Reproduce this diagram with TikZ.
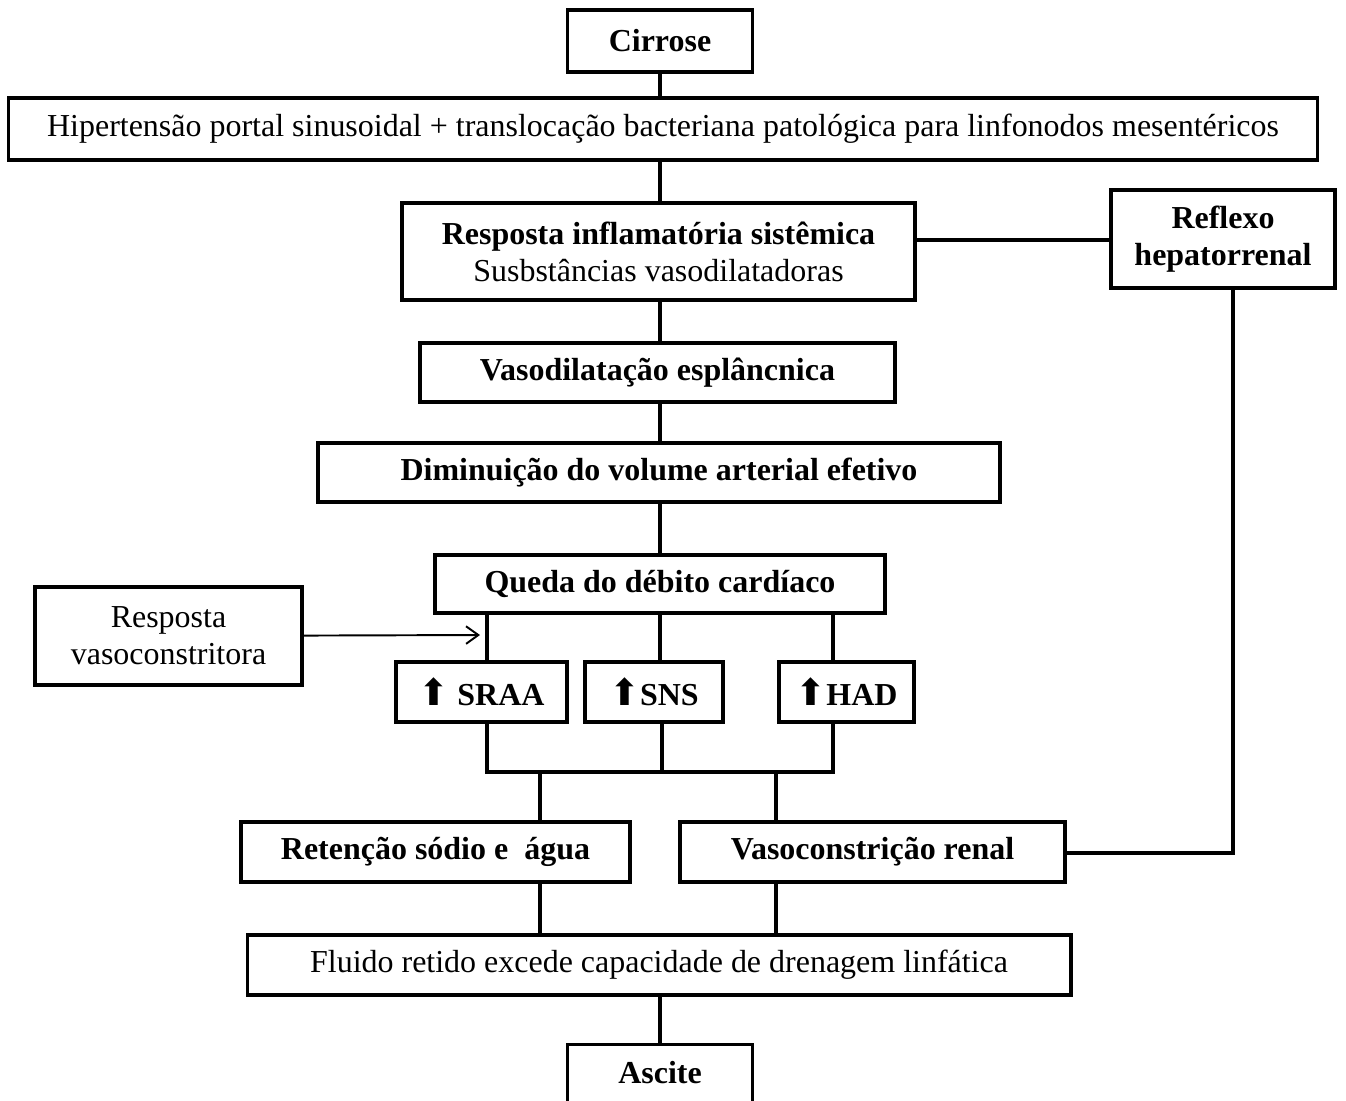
\documentclass[tikz,border=0pt]{standalone}
\usepackage{fontspec}
\setmainfont{Liberation Serif}
\newfontfamily\symfont{DejaVu Sans}
\usetikzlibrary{arrows.meta}

\newcommand{\upar}{{\symfont\fontsize{21}{20}\selectfont ⬆}}

\begin{document}
\begin{tikzpicture}[x=0.02cm, y=-0.02cm,
  box/.style={draw, line width=1.8pt, inner sep=0pt, align=center,
    font=\fontsize{18.2}{21}\selectfont},
  link/.style={line width=1.8pt}]
\useasboundingbox (0,0) rectangle (1346,1100);

\node[box, minimum width=3.7cm, minimum height=1.24cm] (cirrose) at (660,41) {\textbf{Cirrose}};
\node[box, minimum width=26.2cm, minimum height=1.24cm] (hiper) at (663,129) {Hipertensão portal sinusoidal + translocação bacteriana patológica para linfonodos mesentéricos};
\node[box, minimum width=10.26cm, minimum height=1.94cm] (inflam) at (658.5,251.5) {\textbf{Resposta inflamatória sistêmica}\\Susbstâncias vasodilatadoras};
\node[box, minimum width=4.48cm, minimum height=1.96cm] (reflexo) at (1223,239) {\textbf{Reflexo}\\\textbf{hepatorrenal}};
\node[box, minimum width=9.5cm, minimum height=1.18cm] (vasodil) at (657.5,372.5) {\textbf{Vasodilatação esplâncnica}};
\node[box, minimum width=13.64cm, minimum height=1.18cm] (dimin) at (659,472.5) {\textbf{Diminuição do volume arterial efetivo}};
\node[box, minimum width=9cm, minimum height=1.16cm] (queda) at (660,584) {\textbf{Queda do débito cardíaco}};
\node[box, minimum width=5.34cm, minimum height=1.96cm] (vasocons) at (168.5,636) {Resposta\\vasoconstritora};
\node[box, minimum width=3.42cm, minimum height=1.2cm] (sraa) at (481.5,692) {\upar\ \textbf{SRAA}};
\node[box, minimum width=2.76cm, minimum height=1.2cm] (sns) at (654,692) {\upar\textbf{SNS}};
\node[box, minimum width=2.7cm, minimum height=1.2cm] (had) at (846.5,692) {\upar\textbf{HAD}};
\node[box, minimum width=7.78cm, minimum height=1.2cm] (retencao) at (435.5,852) {\textbf{Retenção sódio e\ \ água}};
\node[box, minimum width=7.7cm, minimum height=1.2cm] (renal) at (872.5,852) {\textbf{Vasoconstrição renal}};
\node[box, minimum width=16.48cm, minimum height=1.2cm] (fluido) at (659,965) {Fluido retido excede capacidade de drenagem linfática};
\node[box, minimum width=3.7cm, minimum height=1.4cm, anchor=north] (ascite) at (660,1043) {};
\node[font=\fontsize{18.2}{21}\selectfont] at (660,1073) {\textbf{Ascite}};

\coordinate (mid) at (660,0);
\coordinate (join) at (660,772);
\coordinate (joinl) at (540,772);
\coordinate (joinr) at (776,772);
\coordinate (turn) at (1233,853);
\coordinate (tip) at (480,635);

\draw[link] (cirrose.south -| mid) -- (hiper.north -| mid);
\draw[link] (hiper.south -| mid) -- (inflam.north -| mid);
\draw[link] (inflam.east |- 0,240) -- (reflexo.west |- 0,240);
\draw[link] (inflam.south -| mid) -- (vasodil.north -| mid);
\draw[link] (vasodil.south -| mid) -- (dimin.north -| mid);
\draw[link] (dimin.south -| mid) -- (queda.north -| mid);
\draw[link] (queda.south -| 487,0) -- (sraa.north -| 487,0);
\draw[link] (queda.south -| 660,0) -- (sns.north -| 660,0);
\draw[link] (queda.south -| 833,0) -- (had.north -| 833,0);
\draw[line width=1.1pt, -{Straight Barb[length=7pt,width=10pt]}] (vasocons) -- (tip);
\draw[link] (sraa.south -| 487,0) -- (joinl -| 487,0) -- (joinr -| 833,0) -- (had.south -| 833,0);
\draw[link] (sns.south -| 662,0) -- (join -| 662,0);
\draw[link] (joinl) -- (joinl |- retencao.north);
\draw[link] (joinr) -- (joinr |- renal.north);
\draw[link] (reflexo.south -| turn) -- (turn) -- (renal.east |- turn);
\draw[link] (retencao.south -| joinl) -- (fluido.north -| joinl);
\draw[link] (renal.south -| joinr) -- (fluido.north -| joinr);
\draw[link] (fluido.south -| mid) -- (ascite.north -| mid);
\end{tikzpicture}
\end{document}
